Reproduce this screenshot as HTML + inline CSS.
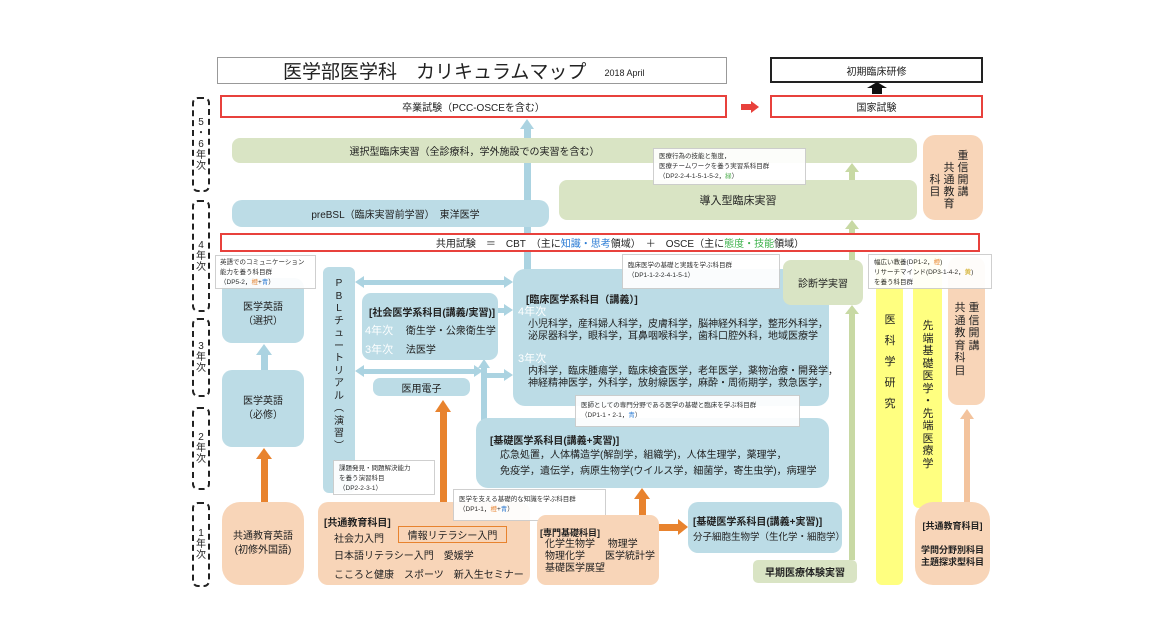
<!DOCTYPE html>
<html><head><meta charset="utf-8">
<style>
*{margin:0;padding:0;box-sizing:border-box}
body{width:1172px;height:642px;background:#fff;position:relative;overflow:hidden;font-family:"Liberation Sans","Noto Sans CJK JP",sans-serif;color:#222;font-size:10px}
.a{position:absolute}
.bl{background:#bcdce6;border-radius:10px}
.gr{background:#d9e4c4;border-radius:8px}
.or{background:#f8d5b8;border-radius:12px}
.ye{background:#ffff80;border-radius:6px}
.red{border:2px solid #e8413c;background:#fff}
.note{background:#fff;border:1px solid #ccc;font-size:6.5px;line-height:10px;padding:3px 5px;opacity:.93;white-space:nowrap;overflow:hidden}
.c{display:flex;align-items:center;justify-content:center;text-align:center}
.st{text-align:center;width:14px}
.yr{border:2px dashed #222;border-radius:6px;width:18px;font-size:10px;line-height:11px;flex-direction:column}
.sb{background:#abd3e1}
.so{background:#e8832e}
.sg{background:#c8d9a4}
.w{color:#fff;font-size:11px}
</style></head><body>
<!-- title -->
<div class="a c" style="left:217px;top:57px;width:510px;height:27px;border:1px solid #999;justify-content:flex-start;padding-left:65px;font-size:19px">医学部医学科　カリキュラムマップ<span style="font-size:9px;margin-left:18px;margin-top:4px">2018 April</span></div>
<div class="a c" style="left:770px;top:57px;width:213px;height:26px;border:2px solid #222">初期臨床研修</div>
<div class="a" style="left:872px;top:87px;width:10px;height:7px;background:#111"></div>
<div class="a" style="left:867px;top:82px;width:0;height:0;border-left:10px solid transparent;border-right:10px solid transparent;border-bottom:6px solid #111"></div>
<div class="a red c" style="left:220px;top:95px;width:507px;height:23px">卒業試験（PCC-OSCEを含む）</div>
<div class="a" style="left:741px;top:104px;width:10px;height:6px;background:#e8413c"></div>
<div class="a" style="left:751px;top:101px;border-top:6px solid transparent;border-bottom:6px solid transparent;border-left:8px solid #e8413c"></div>
<div class="a red c" style="left:770px;top:95px;width:213px;height:23px">国家試験</div>
<!-- year labels -->
<div class="a yr c" style="left:192px;top:97px;height:95px">5<br>・<br>6<br>年<br>次</div>
<div class="a yr c" style="left:192px;top:200px;height:112px">4<br>年<br>次</div>
<div class="a yr c" style="left:192px;top:318px;height:79px">3<br>年<br>次</div>
<div class="a yr c" style="left:192px;top:407px;height:83px">2<br>年<br>次</div>
<div class="a yr c" style="left:192px;top:502px;height:85px">1<br>年<br>次</div>
<!-- vertical blue spine -->
<div class="a sb" style="left:524px;top:128px;width:7px;height:142px"></div>
<div class="a" style="left:520px;top:119px;border-left:7.5px solid transparent;border-right:7.5px solid transparent;border-bottom:10px solid #abd3e1"></div>
<!-- green bars -->
<div class="a gr c" style="left:232px;top:138px;width:685px;height:25px;padding-right:200px">選択型臨床実習（全診療科，学外施設での実習を含む）</div>
<div class="a gr c" style="left:559px;top:180px;width:358px;height:40px;font-size:11px">導入型臨床実習</div>
<div class="a note" style="left:653px;top:148px;width:153px;height:37px">医療行為の技能と態度，<br>医療チームワークを養う実習系科目群<br>（DP2-2-4-1-5-1-5-2，<span style="color:#4a4">緑</span>）</div>
<div class="a or" style="left:923px;top:135px;width:60px;height:85px"></div>
<div class="a st" style="left:956px;top:150px;font-size:11px;line-height:12px">重<br>信<br>開<br>講</div>
<div class="a st" style="left:942px;top:162px;font-size:11px;line-height:12px">共<br>通<br>教<br>育</div>
<div class="a st" style="left:928px;top:174px;font-size:11px;line-height:12px">科<br>目</div>
<div class="a bl c" style="left:232px;top:200px;width:317px;height:27px;padding-left:10px">preBSL（臨床実習前学習）　東洋医学</div>
<!-- green arrows -->
<div class="a sg" style="left:849px;top:172px;width:6px;height:8px"></div>
<div class="a" style="left:845px;top:163px;border-left:7px solid transparent;border-right:7px solid transparent;border-bottom:9px solid #c8d9a4"></div>
<div class="a sg" style="left:849px;top:229px;width:6px;height:4px"></div>
<div class="a" style="left:845px;top:220px;border-left:7px solid transparent;border-right:7px solid transparent;border-bottom:9px solid #c8d9a4"></div>
<div class="a sg" style="left:849px;top:252px;width:6px;height:8px"></div>
<div class="a sg" style="left:849px;top:314px;width:6px;height:246px"></div>
<div class="a" style="left:845px;top:305px;border-left:7px solid transparent;border-right:7px solid transparent;border-bottom:9px solid #c8d9a4"></div>
<div class="a red c" style="left:220px;top:233px;width:760px;height:19px;padding-left:40px">共用試験　＝　CBT　（主に<span style="color:#2a7bd4">知識・思考</span>領域）　＋　OSCE（主に<span style="color:#3bb14a">態度・技能</span>領域）</div>
<!-- left column -->
<div class="a bl c" style="left:222px;top:278px;width:82px;height:65px;line-height:14px;padding-top:8px">医学英語<br>（選択）</div>
<div class="a note" style="left:215px;top:255px;width:101px;height:34px;padding:2px 4px">英語でのコミュニケーション<br>能力を養う科目群<br>（DP5-2，<span style="color:#e8832e">橙</span>+<span style="color:#2a7bd4">青</span>）</div>
<div class="a sb" style="left:261px;top:355px;width:7px;height:15px"></div>
<div class="a" style="left:256px;top:344px;border-left:8px solid transparent;border-right:8px solid transparent;border-bottom:11px solid #abd3e1"></div>
<div class="a bl c" style="left:222px;top:370px;width:82px;height:77px;line-height:14px">医学英語<br>（必修）</div>
<div class="a so" style="left:261px;top:459px;width:7px;height:43px"></div>
<div class="a" style="left:256px;top:448px;border-left:8px solid transparent;border-right:8px solid transparent;border-bottom:11px solid #e8832e"></div>
<div class="a or c" style="left:222px;top:502px;width:82px;height:83px;line-height:14px;border-radius:18px">共通教育英語<br>(初修外国語)</div>
<!-- PBL -->
<div class="a bl" style="left:323px;top:267px;width:32px;height:226px;border-radius:6px"></div>
<div class="a st" style="left:332px;top:278px;font-size:10px;line-height:12.5px">P<br>B<br>L<br>チ<br>ュ<br>ー<br>ト<br>リ<br>ア<br>ル<br>︵<br>演<br>習<br>︶</div>
<!-- double arrows -->
<div class="a sb" style="left:363px;top:280px;width:142px;height:5px"></div>
<div class="a" style="left:355px;top:276px;border-top:6.5px solid transparent;border-bottom:6.5px solid transparent;border-right:9px solid #abd3e1"></div>
<div class="a" style="left:504px;top:276px;border-top:6.5px solid transparent;border-bottom:6.5px solid transparent;border-left:9px solid #abd3e1"></div>
<div class="a sb" style="left:363px;top:369px;width:112px;height:5px"></div>
<div class="a" style="left:355px;top:365px;border-top:6.5px solid transparent;border-bottom:6.5px solid transparent;border-right:9px solid #abd3e1"></div>
<div class="a" style="left:474px;top:365px;border-top:6.5px solid transparent;border-bottom:6.5px solid transparent;border-left:9px solid #abd3e1"></div>
<div class="a sb" style="left:481px;top:368px;width:6px;height:52px"></div>
<div class="a" style="left:478px;top:359px;border-left:6px solid transparent;border-right:6px solid transparent;border-bottom:9px solid #abd3e1"></div>
<div class="a sb" style="left:487px;top:373px;width:18px;height:5px"></div>
<div class="a" style="left:504px;top:369px;border-top:6.5px solid transparent;border-bottom:6.5px solid transparent;border-left:9px solid #abd3e1"></div>
<div class="a sb" style="left:498px;top:308px;width:7px;height:5px"></div>
<div class="a" style="left:504px;top:304px;border-top:6.5px solid transparent;border-bottom:6.5px solid transparent;border-left:9px solid #abd3e1"></div>
<!-- 社会医学 -->
<div class="a bl" style="left:362px;top:293px;width:136px;height:67px;border-radius:9px"></div>
<div class="a" style="left:369px;top:304px;font-weight:bold">[社会医学系科目(講義/実習)]</div>
<div class="a" style="left:365px;top:322px"><span class="w">4年次</span>　 衛生学・公衆衛生学</div>
<div class="a" style="left:365px;top:341px"><span class="w">3年次</span>　 法医学</div>
<div class="a bl c" style="left:373px;top:378px;width:97px;height:18px;border-radius:7px">医用電子</div>
<!-- 臨床医学 -->
<div class="a bl" style="left:513px;top:269px;width:316px;height:137px;border-radius:12px"></div>
<div class="a" style="left:526px;top:291px;font-weight:bold">[臨床医学系科目（講義）]</div>
<div class="a" style="left:518px;top:306px;line-height:12px"><span class="w">4年次</span><br><span style="margin-left:10px">小児科学，産科婦人科学，皮膚科学，脳神経外科学，整形外科学，</span><br><span style="margin-left:10px">泌尿器科学，眼科学，耳鼻咽喉科学，歯科口腔外科，地域医療学</span></div>
<div class="a" style="left:518px;top:353px;line-height:12px"><span class="w">3年次</span><br><span style="margin-left:10px">内科学，臨床腫瘍学，臨床検査医学，老年医学，薬物治療・開発学，</span><br><span style="margin-left:10px">神経精神医学，外科学，放射線医学，麻酔・周術期学，救急医学，</span></div>
<div class="a note" style="left:622px;top:254px;width:158px;height:35px;padding-top:6px">臨床医学の基礎と実践を学ぶ科目群<br>（DP1-1-2-2-4-1-5-1）</div>
<!-- 診断学 -->
<div class="a gr c" style="left:783px;top:260px;width:80px;height:45px">診断学実習</div>
<!-- yellow columns -->
<div class="a ye" style="left:876px;top:255px;width:27px;height:330px"></div>
<div class="a st" style="left:883px;top:310px;font-size:11px;line-height:21px">医<br>科<br>学<br>研<br>究</div>
<div class="a ye" style="left:913px;top:255px;width:29px;height:253px"></div>
<div class="a st" style="left:921px;top:320px;font-size:11px;line-height:12.5px">先<br>端<br>基<br>礎<br>医<br>学<br>・<br>先<br>端<br>医<br>療<br>学</div>
<div class="a or" style="left:948px;top:257px;width:37px;height:148px;border-radius:10px"></div>
<div class="a st" style="left:967px;top:302px;font-size:11px;line-height:12.5px">重<br>信<br>開<br>講</div>
<div class="a st" style="left:953px;top:302px;font-size:11px;line-height:12.5px">共<br>通<br>教<br>育<br>科<br>目</div>
<div class="a note" style="left:868px;top:254px;width:124px;height:35px">幅広い教養(DP1-2，<span style="color:#e8832e">橙</span>)<br>リサーチマインド(DP3-1-4-2，<span style="color:#c9a000">黄</span>)<br>を養う科目群</div>
<div class="a" style="left:964px;top:419px;width:6px;height:84px;background:#f3c39d"></div>
<div class="a" style="left:960px;top:409px;border-left:7px solid transparent;border-right:7px solid transparent;border-bottom:10px solid #f3c39d"></div>
<div class="a or c" style="left:915px;top:502px;width:75px;height:83px;line-height:12px;font-size:9px;font-weight:bold;border-radius:18px">[共通教育科目]<br><br>学問分野別科目<br>主題探求型科目</div>
<!-- 基礎医学 -->
<div class="a bl" style="left:476px;top:418px;width:353px;height:70px;border-radius:12px"></div>
<div class="a" style="left:490px;top:432px;font-weight:bold">[基礎医学系科目(講義+実習)]</div>
<div class="a" style="left:500px;top:448px;line-height:16px">応急処置，人体構造学(解剖学，組織学)，人体生理学，薬理学，<br>免疫学，遺伝学，病原生物学(ウイルス学，細菌学，寄生虫学)，病理学</div>
<div class="a note" style="left:575px;top:395px;width:225px;height:32px;padding-top:5px">医師としての専門分野である医学の基礎と臨床を学ぶ科目群<br>（DP1-1・2-1，<span style="color:#2a7bd4">青</span>）</div>
<!-- orange arrows -->
<div class="a so" style="left:440px;top:412px;width:7px;height:92px"></div>
<div class="a" style="left:435px;top:400px;border-left:8.5px solid transparent;border-right:8.5px solid transparent;border-bottom:12px solid #e8832e"></div>
<!-- 共通教育科目 -->
<div class="a or" style="left:318px;top:502px;width:212px;height:83px;border-radius:10px"></div>
<div class="a" style="left:324px;top:514px;font-weight:bold">[共通教育科目]</div>
<div class="a" style="left:334px;top:530px">社会力入門</div>
<div class="a c" style="left:398px;top:526px;width:109px;height:17px;border:1px solid #e8832e">情報リテラシー入門</div>
<div class="a" style="left:334px;top:547px">日本語リテラシー入門　愛媛学</div>
<div class="a" style="left:334px;top:566px">こころと健康　スポーツ　新入生セミナー</div>
<div class="a note" style="left:333px;top:460px;width:102px;height:35px">課題発見・問題解決能力<br>を養う演習科目<br>（DP2-2-3-1）</div>
<div class="a note" style="left:453px;top:489px;width:153px;height:32px;padding-top:5px">医学を支える基礎的な知識を学ぶ科目群<br>（DP1-1，<span style="color:#e8832e">橙</span>+<span style="color:#2a7bd4">青</span>）</div>
<!-- 専門基礎 -->
<div class="a so" style="left:639px;top:499px;width:7px;height:16px"></div>
<div class="a" style="left:634px;top:488px;border-left:8.5px solid transparent;border-right:8.5px solid transparent;border-bottom:11px solid #e8832e"></div>
<div class="a or" style="left:537px;top:515px;width:122px;height:70px;border-radius:9px"></div>
<div class="a" style="left:540px;top:526px;font-weight:bold;font-size:9px">[専門基礎科目]</div>
<div class="a" style="left:545px;top:539px;line-height:12px;white-space:nowrap">化学生物学　 物理学<br>物理化学　　医学統計学<br>基礎医学展望</div>
<div class="a so" style="left:659px;top:524px;width:20px;height:7px"></div>
<div class="a" style="left:678px;top:519px;border-top:8.5px solid transparent;border-bottom:8.5px solid transparent;border-left:10px solid #e8832e"></div>
<div class="a bl" style="left:688px;top:502px;width:154px;height:51px;border-radius:10px"></div>
<div class="a" style="left:693px;top:513px;font-weight:bold">[基礎医学系科目(講義+実習)]</div>
<div class="a" style="left:693px;top:529px;font-size:9.5px;white-space:nowrap">分子細胞生物学（生化学・細胞学）</div>
<div class="a gr c" style="left:753px;top:560px;width:104px;height:23px;font-weight:bold;border-radius:5px">早期医療体験実習</div>
</body></html>
